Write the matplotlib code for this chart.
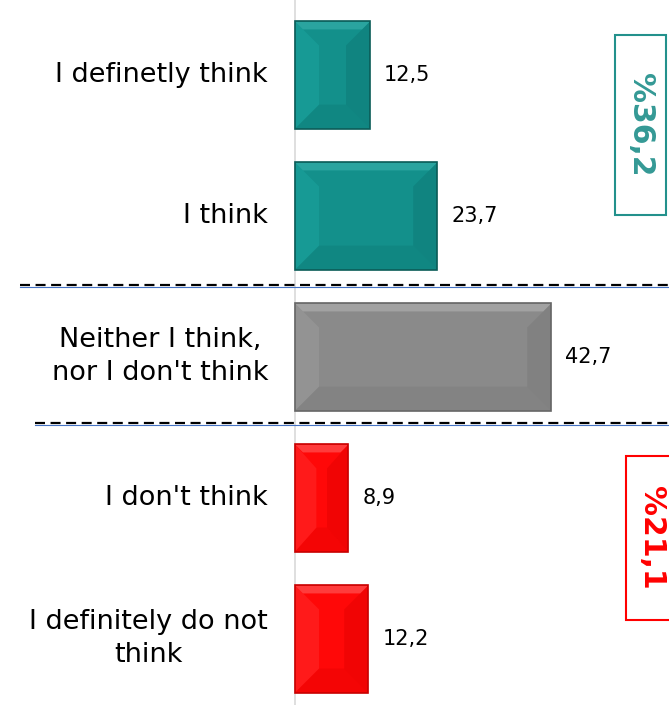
import matplotlib
matplotlib.use('Agg')
import matplotlib.pyplot as plt
from matplotlib.patches import Polygon, Rectangle

categories = ['I definetly think', 'I think', "Neither I think,\nnor I don't think",
              "I don't think", 'I definitely do not\nthink']
values = [12.5, 23.7, 42.7, 8.9, 12.2]
value_labels = ['12,5', '23,7', '42,7', '8,9', '12,2']
groups = ['pos', 'pos', 'mid', 'neg', 'neg']
group_totals = {'pos': '%36,2', 'neg': '%21,1'}

colors = {
    'pos': {'face': '#13908b', 'light': '#30aaa5', 'side': '#179a95', 'dark': '#0d7773', 'edge': '#0b5c58'},
    'mid': {'face': '#8a8a8a', 'light': '#a9a9a9', 'side': '#939393', 'dark': '#777777', 'edge': '#666666'},
    'neg': {'face': '#ff0808', 'light': '#ff4a4a', 'side': '#ff1a1a', 'dark': '#e00000', 'edge': '#c80000'},
}

fig = plt.figure(figsize=(6.69, 7.05), dpi=100)
ax = fig.add_axes([0, 0, 1, 1])
# 6 px per unit on x, 141 px per category on y
ax.set_xlim(-295 / 6, 374 / 6)
ax.set_ylim(-75 / 141 + 705 / 141, -75 / 141)
ax.axis('off')

px = 1 / 6.0
py = 1 / 141.0
h = 0.38
ins = 24  # bevel depth in pixels

# vertical axis line
ax.plot([0, 0], [-1, 6], color='#d9d9d9', lw=1.2, zorder=1)

for i, (cat, v, lab, g) in enumerate(zip(categories, values, value_labels, groups)):
    c = colors[g]
    x0, x1 = 0, v
    y0, y1 = i - h, i + h  # y0 is the top on screen
    dx = min(ins * px, (x1 - x0) / 2.5)
    dy = ins * py
    ax.add_patch(Rectangle((x0, y0), x1 - x0, y1 - y0, facecolor=c['face'],
                           edgecolor='none', zorder=2))
    top = [(x0, y0), (x1, y0), (x1 - dx, y0 + dy), (x0 + dx, y0 + dy)]
    bottom = [(x0, y1), (x1, y1), (x1 - dx, y1 - dy), (x0 + dx, y1 - dy)]
    left = [(x0, y0), (x0 + dx, y0 + dy), (x0 + dx, y1 - dy), (x0, y1)]
    right = [(x1, y0), (x1 - dx, y0 + dy), (x1 - dx, y1 - dy), (x1, y1)]
    ax.add_patch(Polygon(top, closed=True, facecolor=c['face'], edgecolor='none', zorder=3))
    ax.add_patch(Polygon(bottom, closed=True, facecolor=c['dark'], edgecolor='none', zorder=3, alpha=0.35))
    ax.add_patch(Polygon(left, closed=True, facecolor=c['side'], edgecolor='none', zorder=3))
    ax.add_patch(Polygon(right, closed=True, facecolor=c['dark'], edgecolor='none', zorder=3, alpha=0.45))
    # thin highlight at the top edge
    band = [(x0, y0), (x1, y0), (x1 - 8 * px, y0 + 8 * py), (x0 + 8 * px, y0 + 8 * py)]
    ax.add_patch(Polygon(band, closed=True, facecolor=c['light'], edgecolor='none', zorder=3, alpha=0.8))
    ax.add_patch(Rectangle((x0, y0), x1 - x0, y1 - y0, facecolor='none',
                           edgecolor=c['edge'], lw=1.2, zorder=4))

    ax.text(x1 + 14 * px, i, lab, ha='left', va='center', fontsize=15,
            family='DejaVu Sans', color='black')
    ax.text(-27 * px, i, cat, ha='right', va='center', fontsize=19.5,
            family='DejaVu Sans', color='black', linespacing=1.35,
            multialignment='center')

# dashed separators
for yl, xs in [(1.49, 20), (2.47, 35)]:
    xa = (xs - 295) * px
    ax.plot([xa, 62.5], [yl + 0.012, yl + 0.012], color='#4472c4', lw=0.8, zorder=1)
    ax.plot([xa, 62.5], [yl, yl], color='black', lw=1.6, ls=(0, (4.5, 2.5)), zorder=1)

# group total boxes
box_specs = {
    'pos': {'x': 615, 'y': 35, 'w': 51, 'hgt': 180, 'color': '#23918c', 'text': '#349995'},
    'neg': {'x': 626, 'y': 456, 'w': 50, 'hgt': 164, 'color': '#ff0000', 'text': '#ff0000'},
}
for g, b in box_specs.items():
    bx = (b['x'] - 295) * px
    by = (b['y'] - 75) * py
    bw = b['w'] * px
    bh = b['hgt'] * py
    ax.add_patch(Rectangle((bx, by), bw, bh, facecolor='white', edgecolor=b['color'],
                           lw=1.5, zorder=5, clip_on=False))
    ax.text(bx + bw / 2, by + bh / 2, group_totals[g], rotation=-90, ha='center', va='center',
            fontsize=21.5, fontweight='bold', color=b['text'], zorder=6, family='DejaVu Sans')

fig.savefig('out.png', dpi=100)
